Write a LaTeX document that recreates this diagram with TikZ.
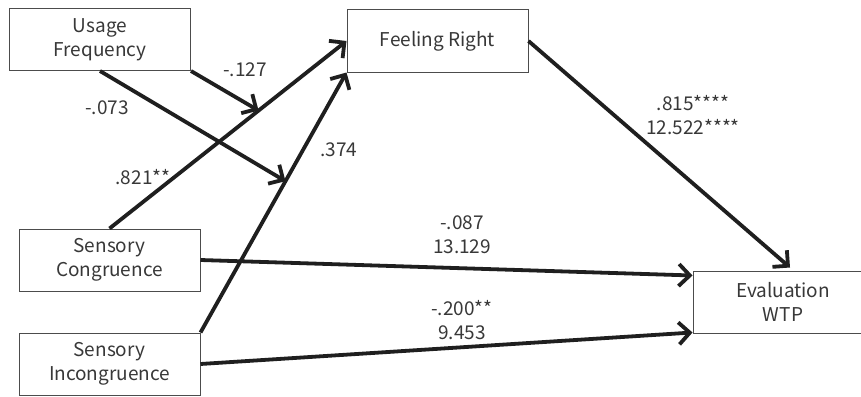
\documentclass[tikz,border=0pt]{standalone}
\usepackage{fontspec}
\setmainfont{Noto Sans CJK JP}
\usetikzlibrary{arrows.meta,calc}
\begin{document}
\begin{tikzpicture}[x=1pt,y=-1pt,
  box/.style={draw=black!70, line width=1pt, fill=white, minimum width=181pt, minimum height=62pt,
    align=center, inner sep=0pt, font=\fontsize{19}{24}\selectfont, text=black!78},
  link/.style={line width=3.8pt, draw=black!88,
    -{Straight Barb[length=11pt,width=22pt,line width=3.8pt]}},
  lbl/.style={font=\fontsize{19}{24}\selectfont, text=black!78, align=center, inner sep=0pt}]
\useasboundingbox (0,0) rectangle (861,396);
\node[box] (UF) at (100,39.5) {Usage\\Frequency};
\node[box] (FR) at (437.5,41) {Feeling Right};
\node[box] (SC) at (109.5,260) {Sensory\\Congruence};
\node[box] (SI) at (109.5,364) {Sensory\\Incongruence};
\node[box, minimum width=180pt] (EV) at (783,302) {Evaluation\\WTP};
\coordinate (m1) at ($(SC.north)!0.629!(FR.west)$);
\coordinate (m2) at ($(SI.north east)!0.582!(FR.south west)$);
\coordinate (evtop) at ($(EV.north)+(7,-3)$);
\coordinate (evsc) at ($(EV.north west)+(0,5)$);
\coordinate (evsi) at ($(EV.south west)+(0,-1)$);
\draw[link] (SC.north) -- (FR.west);
\draw[link] (SI.north east) -- (FR.south west);
\draw[link] (UF.south east) -- (m1);
\draw[link] (UF.south) -- (m2);
\draw[link] (FR.east) -- (evtop);
\draw[link] (SC.east) -- (evsc);
\draw[link] (SI.east) -- (evsi);
\node[lbl] (l1) at (245,70) {-.127};
\node[lbl] (l2) at (107,108) {-.073};
\node[lbl] (l3) at (143,177) {.821**};
\node[lbl] (l4) at (339,150) {.374};
\node[lbl] (l5) at (693,115) {.815****\\12.522****};
\node[lbl] (l6) at (462,235) {-.087\\13.129};
\node[lbl] (l7) at (462,320) {-.200**\\9.453};
\end{tikzpicture}
\end{document}
